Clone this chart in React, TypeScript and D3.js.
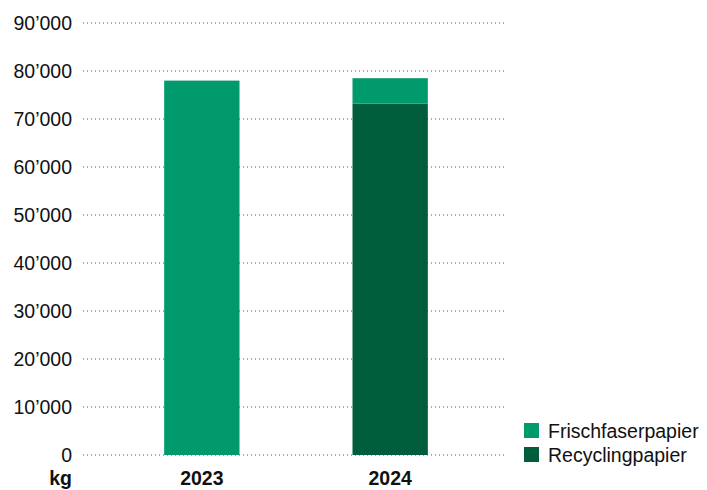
import React from "react";
import * as d3 from "d3";

const years = ["2023", "2024"];
const recycling = [0, 73200];
const frischfaser = [78000, 5300];
const yTicks = [0, 10000, 20000, 30000, 40000, 50000, 60000, 70000, 80000, 90000];
const seriesNames = ["Frischfaserpapier", "Recyclingpapier"];
const colors = { Frischfaserpapier: "#009a6c", Recyclingpapier: "#005e3c" };

const W = 707, H = 490;
const plotLeft = 83, plotRight = 505;
const yTop = 23, yBottom = 455;

export default function App() {
  const y = d3.scaleLinear().domain([0, 90000]).range([yBottom, yTop]);
  const x = d3.scaleBand().domain(years).range([70, 522]).paddingInner(0.6).paddingOuter(0.5);
  const fmt = (v: number) => d3.format(",")(v).replace(/,/g, "\u2019");
  const data = years.map((yr, i) => ({ year: yr, Recyclingpapier: recycling[i], Frischfaserpapier: frischfaser[i] }));
  const stack = d3.stack<any>().keys(["Recyclingpapier", "Frischfaserpapier"])(data);
  const font = "'Liberation Sans', Arial, Helvetica, sans-serif";
  const fs = 19.5;

  return (
    <svg width={W} height={H} style={{ position: "absolute", left: 0, top: 0 }} fontFamily={font}>
      {yTicks.map((t) => (
        <g key={t}>
          <line x1={plotLeft} x2={plotRight} y1={y(t)} y2={y(t)} stroke="#555" strokeWidth={1} strokeDasharray="1,3" />
          <text x={72} y={y(t)} dy="0.35em" textAnchor="end" fontSize={fs} fill="#111">{fmt(t)}</text>
        </g>
      ))}
      {stack.map((s) => (
        <g key={s.key} fill={(colors as any)[s.key]}>
          {s.map((d, i) =>
            d[1] - d[0] > 0 ? (
              <rect key={i} x={x(years[i])} width={x.bandwidth()} y={y(d[1])} height={y(d[0]) - y(d[1])} />
            ) : null
          )}
        </g>
      ))}
      {years.map((yr) => (
        <text key={yr} x={(x(yr) as number) + x.bandwidth() / 2} y={485} textAnchor="middle" fontSize={fs} fontWeight="bold" fill="#111">{yr}</text>
      ))}
      <text x={72} y={485} textAnchor="end" fontSize={fs} fontWeight="bold" fill="#111">kg</text>
      {seriesNames.map((n, i) => (
        <g key={n} transform={`translate(524, ${423 + i * 24})`}>
          <rect width={15} height={15} fill={(colors as any)[n]} />
          <text x={24} y={15} fontSize={fs} fill="#111">{n}</text>
        </g>
      ))}
    </svg>
  );
}
